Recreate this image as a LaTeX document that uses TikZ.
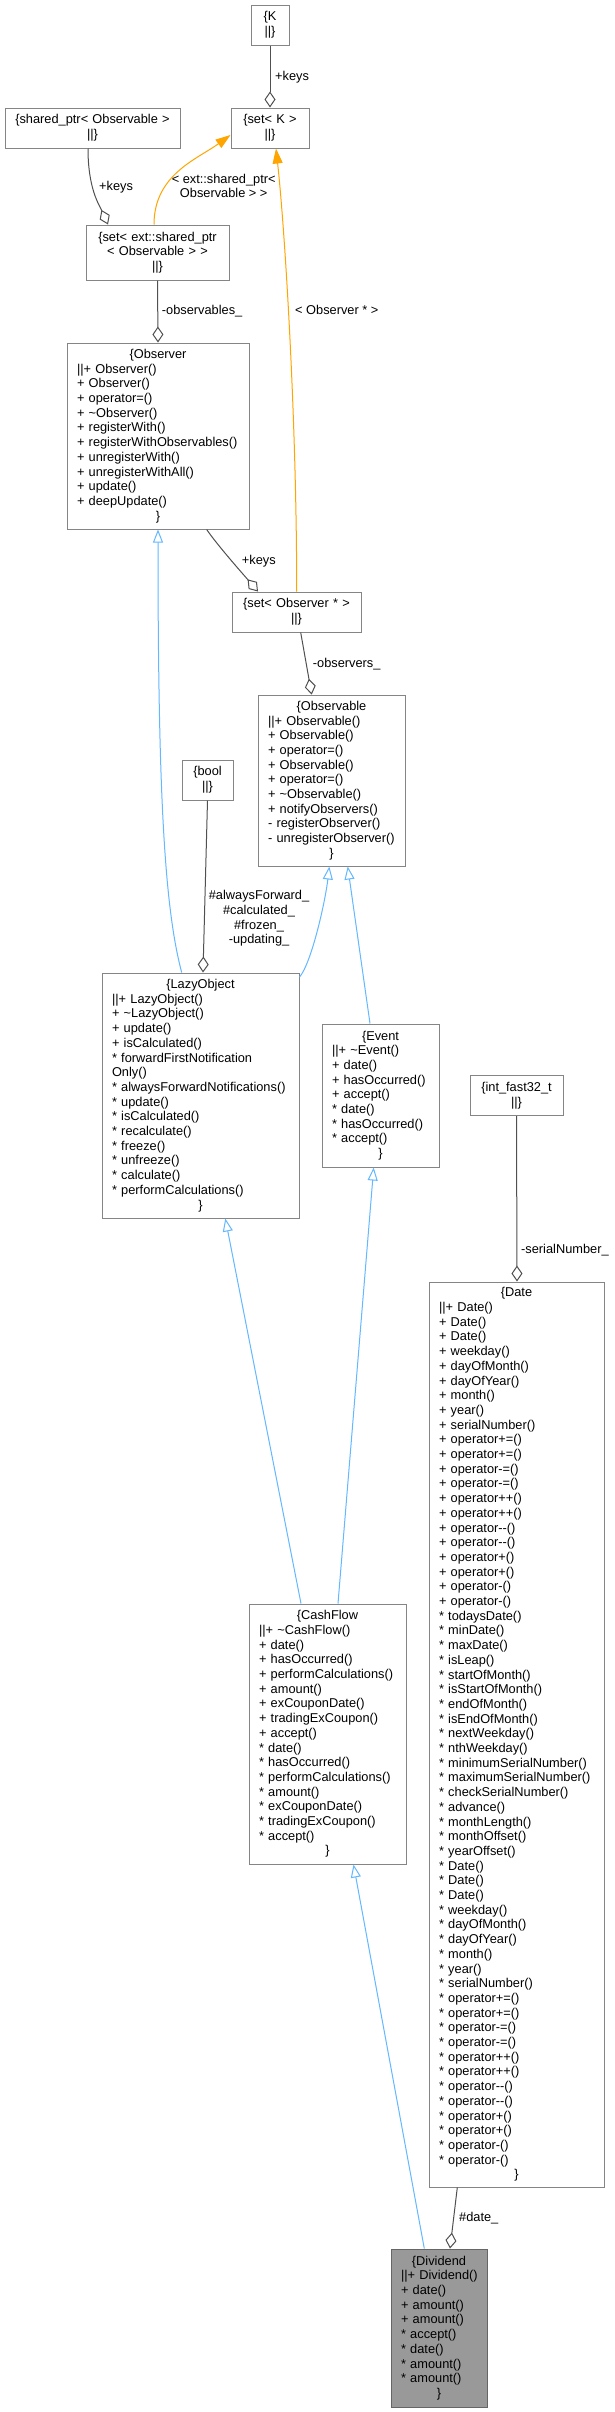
\documentclass[tikz,border=0pt]{standalone}
\usepackage{fontspec}
\setmainfont{Liberation Sans}
\usetikzlibrary{arrows.meta}
\definecolor{boxc}{HTML}{858585}
\definecolor{edgec}{HTML}{505050}
\definecolor{inhc}{HTML}{63B8FF}
\definecolor{tmplc}{HTML}{FFA500}
\definecolor{rootc}{HTML}{999999}
\newcommand\cl[1]{\leavevmode\hbox to\hsize{\hss#1\hss}}
\tikzset{
  box/.style={draw=boxc, line width=1pt, fill=white, inner xsep=10pt, inner ysep=0pt,
    align=left, font={\fontsize{12.8}{14.7}\selectfont\hyphenpenalty=10000 \exhyphenpenalty=10000 }},
  lbl/.style={font={\fontsize{12.8}{14.7}\selectfont}, inner sep=0pt, text=black},
  dia/.style={draw=edgec, line width=1pt, -{Diamond[open, length=16pt, width=11pt, line width=1pt]}},
  inh/.style={draw=inhc, line width=1pt, -{Triangle[open, length=13pt, width=10pt, line width=1pt]}},
  tmpl/.style={draw=tmplc, line width=1pt, -{Triangle[length=15pt, width=10pt]}}
}
\begin{document}
\begin{tikzpicture}[x=1pt, y=-1pt]
\fill[white] (0,0) rectangle (614,2412);
\useasboundingbox (0,0) rectangle (614,2412);

\node[box, text width=18pt, minimum height=40pt] (K) at (270,25) {\cl{\{K}\\\cl{||\}}};
\node[box, text width=58pt, minimum height=40pt] (setK) at (270,128) {\cl{\{set<~K~>}\\\cl{||\}}};
\node[box, text width=155pt, minimum height=40pt] (sharedptr) at (92.5,128) {\cl{\{shared\_ptr<~Observable~>}\\\cl{||\}}};
\node[box, text width=123pt, minimum height=55pt] (setExt) at (157.5,252.5) {\cl{\{set<~ext::shared\_ptr}\\\cl{<~Observable~>~>}\\\cl{||\}}};
\node[box, text width=162pt, minimum height=186pt] (observer) at (158,436) {\cl{\{Observer}\\
||+~Observer()\\
+~Observer()\\
+~operator=()\\
+~\textasciitilde Observer()\\
+~registerWith()\\
+~registerWithObservables()\\
+~unregisterWith()\\
+~unregisterWithAll()\\
+~update()\\
+~deepUpdate()\\
\cl{\}}};
\node[box, text width=109pt, minimum height=40pt] (setObs) at (296.5,612) {\cl{\{set<~Observer~*~>}\\\cl{||\}}};
\node[box, text width=127pt, minimum height=171pt] (observable) at (331.5,780.5) {\cl{\{Observable}\\
||+~Observable()\\
+~Observable()\\
+~operator=()\\
+~Observable()\\
+~operator=()\\
+~\textasciitilde Observable()\\
+~notifyObservers()\\
-~registerObserver()\\
-~unregisterObserver()\\
\cl{\}}};
\node[box, text width=31pt, minimum height=40pt] (bool) at (207.5,780) {\cl{\{bool}\\\cl{||\}}};
\node[box, text width=177pt, minimum height=245pt] (lazy) at (200.5,1095.5) {\cl{\{LazyObject}\\
||+~LazyObject()\\
+~\textasciitilde LazyObject()\\
+~update()\\
+~isCalculated()\\
{*}~forwardFirstNotification\\
Only()\\
{*}~alwaysForwardNotifications()\\
{*}~update()\\
{*}~isCalculated()\\
{*}~recalculate()\\
{*}~freeze()\\
{*}~unfreeze()\\
{*}~calculate()\\
{*}~performCalculations()\\
\cl{\}}};
\node[box, text width=97pt, minimum height=143pt] (event) at (380.5,1095.5) {\cl{\{Event}\\
||+~\textasciitilde Event()\\
+~date()\\
+~hasOccurred()\\
+~accept()\\
{*}~date()\\
{*}~hasOccurred()\\
{*}~accept()\\
\cl{\}}};
\node[box, text width=73pt, minimum height=40pt] (intf) at (516.5,1095.5) {\cl{\{int\_fast32\_t}\\\cl{||\}}};
\node[box, text width=155pt, minimum height=905pt] (date) at (516.5,1734.5) {\cl{\{Date}\\
||+~Date()\\
+~Date()\\
+~Date()\\
+~weekday()\\
+~dayOfMonth()\\
+~dayOfYear()\\
+~month()\\
+~year()\\
+~serialNumber()\\
+~operator+=()\\
+~operator+=()\\
+~operator-=()\\
+~operator-=()\\
+~operator++()\\
+~operator++()\\
+~operator-{}-()\\
+~operator-{}-()\\
+~operator+()\\
+~operator+()\\
+~operator-()\\
+~operator-()\\
{*}~todaysDate()\\
{*}~minDate()\\
{*}~maxDate()\\
{*}~isLeap()\\
{*}~startOfMonth()\\
{*}~isStartOfMonth()\\
{*}~endOfMonth()\\
{*}~isEndOfMonth()\\
{*}~nextWeekday()\\
{*}~nthWeekday()\\
{*}~minimumSerialNumber()\\
{*}~maximumSerialNumber()\\
{*}~checkSerialNumber()\\
{*}~advance()\\
{*}~monthLength()\\
{*}~monthOffset()\\
{*}~yearOffset()\\
{*}~Date()\\
{*}~Date()\\
{*}~Date()\\
{*}~weekday()\\
{*}~dayOfMonth()\\
{*}~dayOfYear()\\
{*}~month()\\
{*}~year()\\
{*}~serialNumber()\\
{*}~operator+=()\\
{*}~operator+=()\\
{*}~operator-=()\\
{*}~operator-=()\\
{*}~operator++()\\
{*}~operator++()\\
{*}~operator-{}-()\\
{*}~operator-{}-()\\
{*}~operator+()\\
{*}~operator+()\\
{*}~operator-()\\
{*}~operator-()\\
\cl{\}}};
\node[box, text width=137pt, minimum height=260pt] (cashflow) at (327.5,1734) {\cl{\{CashFlow}\\
||+~\textasciitilde CashFlow()\\
+~date()\\
+~hasOccurred()\\
+~performCalculations()\\
+~amount()\\
+~exCouponDate()\\
+~tradingExCoupon()\\
+~accept()\\
{*}~date()\\
{*}~hasOccurred()\\
{*}~performCalculations()\\
{*}~amount()\\
{*}~exCouponDate()\\
{*}~tradingExCoupon()\\
{*}~accept()\\
\cl{\}}};
\node[box, draw=black!60, fill=rootc, text width=76pt, minimum height=158pt] (dividend) at (439,2328) {\cl{\{Dividend}\\
||+~Dividend()\\
+~date()\\
+~amount()\\
+~amount()\\
{*}~accept()\\
{*}~date()\\
{*}~amount()\\
{*}~amount()\\
\cl{\}}};

% connectors
\draw[dia] (K.south) -- (setK.north);
\draw[dia] ([xshift=-4.5pt]sharedptr.south) .. controls +(0,40) and +(-9,-20) .. ([xshift=-49.5pt]setExt.north);
\draw[tmpl] ([xshift=-3.5pt]setExt.north) .. controls +(0,-50) and +(-33,24) .. ([yshift=-7pt]setK.west);
\draw[tmpl] ([xshift=0.2pt]setObs.north) .. controls +(0,-172) and +(9,82) .. ([xshift=6pt]setK.south);
\draw[dia] (setExt.south) -- (observer.north);
\draw[dia] ([xshift=48.7pt]observer.south) .. controls +(10,15) and +(-12,-14) .. ([xshift=-38.5pt]setObs.north);
\draw[dia] ([xshift=4.2pt]setObs.south) -- ([xshift=-19.8pt]observable.north);
\draw[inh] ([xshift=-18.8pt]lazy.north) .. controls +(-16.7,-63) and +(0,271) .. (observer.south);
\draw[inh] ([yshift=-4.6pt]lazy.north east) .. controls +(12,-14) and +(-4,35) .. ([xshift=-2.2pt]observable.south);
\draw[inh] ([xshift=-10.5pt]event.north) -- ([xshift=16.2pt]observable.south);
\draw[dia] (bool.south) -- ([xshift=2.5pt]lazy.north);
\draw[inh] ([xshift=-26.5pt]cashflow.north) -- ([xshift=24.8pt]lazy.south);
\draw[inh] ([xshift=10.5pt]cashflow.north) -- ([xshift=-6.8pt]event.south);
\draw[dia] (intf.south) -- ([xshift=0.5pt]date.north);
\draw[inh] ([xshift=-14.7pt]dividend.north) -- ([xshift=26pt]cashflow.south);
\draw[dia] ([xshift=-59.2pt]date.south) -- ([xshift=11pt]dividend.north);

% labels
\node[lbl, anchor=base west] (lk1) at (275,80.7) {+keys};
\node[lbl, anchor=base west] (lk2) at (99,190.4) {+keys};
\node[lbl, align=center] (lext) at (223.7,186) {<~ext::shared\_ptr<\\Observable~>~>};
\node[lbl, anchor=base west] (lobs) at (295,314.7) {<~Observer~*~>};
\node[lbl, anchor=base west] (lobsv) at (161.7,314.7) {-observables\_};
\node[lbl, anchor=base west] (lk3) at (241.7,564.7) {+keys};
\node[lbl, anchor=base west] (lobsr) at (312.7,667.2) {-observers\_};
\node[lbl, align=center] (lbool) at (259,918.6) {\#alwaysForward\_\\\#calculated\_\\\#frozen\_\\-updating\_};
\node[lbl, anchor=base west] (lser) at (521,1253.2) {-serialNumber\_};
\node[lbl, anchor=base west] (ldate) at (459,2221.4) {\#date\_};
\end{tikzpicture}
\end{document}
